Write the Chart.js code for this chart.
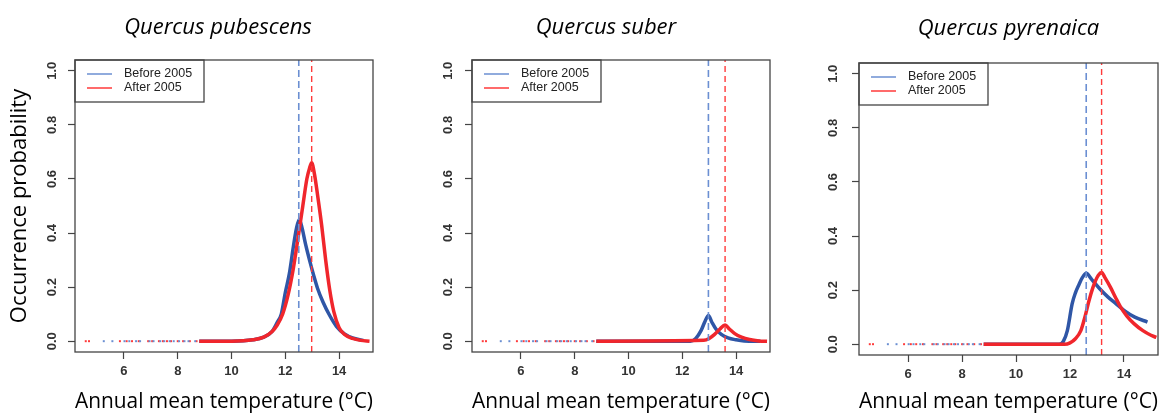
<!DOCTYPE html>
<html lang="en">
<head>
    <meta charset="UTF-8">
    <title>Occurrence probability vs annual mean temperature</title>
    <script src="https://cdn.jsdelivr.net/npm/chart.js"></script>
    <style>
        body { margin: 0; background: #fff; }
        .panel { position: absolute; top: 0; height: 414px; }
    </style>
</head>
<body>

    <div class="panel" style="left:0px; width:390px;"><canvas id="chart1"></canvas></div>
    <div class="panel" style="left:390px; width:390px;"><canvas id="chart2"></canvas></div>
    <div class="panel" style="left:780px; width:391px;"><canvas id="chart3"></canvas></div>

    <script>
        // species titles and legend labels
        const speciesNames = ['Quercus pubescens', 'Quercus suber', 'Quercus pyrenaica'];
        const seriesLabels = ['Before 2005', 'After 2005'];

        const xTicks = [6, 8, 10, 12, 14];
        const yTicks = [0, 0.2, 0.4, 0.6, 0.8, 1.0];

        // sparse observations at low temperatures (all at probability 0)
        const beforeDotsX = [5.25, 5.57, 6.02, 6.2, 6.45, 6.6, 6.95, 7.1, 7.35, 7.5, 7.7, 7.85, 8.05, 8.25, 8.4, 8.65];
        const afterDotsX = [4.58, 4.7, 5.85, 6.1, 6.3, 6.55, 6.9, 7.05, 7.3, 7.45, 7.6, 7.75, 8.0, 8.2, 8.45, 8.7];

        // Quercus pubescens
        const pubBeforeX = [8.8, 10.0, 10.8, 11.2, 11.5, 11.7, 11.85, 12.0, 12.15, 12.3, 12.42, 12.52, 12.62, 12.75, 12.9, 13.05, 13.2, 13.4, 13.65, 13.9, 14.2, 14.5, 14.9];
        const pubBeforeY = [0, 0, 0.005, 0.015, 0.035, 0.07, 0.1, 0.18, 0.25, 0.35, 0.42, 0.45, 0.42, 0.36, 0.3, 0.245, 0.195, 0.145, 0.095, 0.055, 0.027, 0.012, 0.003];
        const pubAfterX = [8.8, 10.0, 10.8, 11.2, 11.5, 11.7, 11.9, 12.1, 12.3, 12.5, 12.65, 12.8, 12.9, 12.98, 13.08, 13.2, 13.35, 13.5, 13.65, 13.8, 14.0, 14.2, 14.5, 14.8, 15.13];
        const pubAfterY = [0, 0, 0.005, 0.015, 0.035, 0.06, 0.1, 0.17, 0.27, 0.4, 0.5, 0.6, 0.64, 0.66, 0.62, 0.54, 0.43, 0.3, 0.19, 0.11, 0.05, 0.025, 0.01, 0.003, 0];

        // Quercus suber
        const subBeforeX = [8.8, 12.3, 12.5, 12.7, 12.85, 12.97, 13.1, 13.25, 13.45, 13.7, 14.0, 14.3, 14.9];
        const subBeforeY = [0, 0, 0.01, 0.04, 0.075, 0.095, 0.07, 0.045, 0.025, 0.012, 0.005, 0.001, 0];
        const subAfterX = [8.8, 12.8, 13.0, 13.2, 13.4, 13.59, 13.75, 13.95, 14.2, 14.5, 14.85, 15.15];
        const subAfterY = [0, 0.003, 0.01, 0.025, 0.045, 0.06, 0.045, 0.028, 0.015, 0.006, 0.001, 0];

        // Quercus pyrenaica
        const pyrBeforeX = [8.8, 11.6, 11.75, 11.9, 12.08, 12.2, 12.33, 12.45, 12.6, 12.8, 13.1, 13.4, 13.7, 14.0, 14.4, 14.87];
        const pyrBeforeY = [0, 0, 0.01, 0.05, 0.15, 0.19, 0.22, 0.245, 0.262, 0.24, 0.205, 0.175, 0.15, 0.125, 0.1, 0.082];
        const pyrAfterX = [8.8, 11.8, 12.0, 12.2, 12.4, 12.55, 12.7, 12.85, 12.95, 13.05, 13.17, 13.3, 13.5, 13.7, 13.87, 14.1, 14.37, 14.7, 15.0, 15.2];
        const pyrAfterY = [0, 0, 0.005, 0.02, 0.05, 0.1, 0.16, 0.21, 0.236, 0.255, 0.265, 0.245, 0.21, 0.17, 0.138, 0.105, 0.076, 0.05, 0.033, 0.025];

        // optimum temperatures (dashed vertical lines)
        const optimumBefore = [12.5, 12.97, 12.6];
        const optimumAfter = [12.98, 13.59, 13.17];

        const BLUE = '#2f56a6';
        const RED = '#f0262c';
        const BLUE_DASH = '#6b8fd2';
        const RED_DASH = '#ff3a3a';
        const AXIS = '#444';

        const toPoints = (xs, ys) => xs.map((x, i) => ({ x: x, y: ys[i] }));

        // draws the frame, the R-style legend box and the panel title
        const framePlugin = {
            id: 'frame',
            afterDraw(chart) {
                const ctx = chart.ctx;
                const a = chart.chartArea;
                const o = chart.options.plugins.frame;
                ctx.save();
                ctx.strokeStyle = AXIS;
                ctx.lineWidth = 1.3;
                ctx.strokeRect(a.left, a.top, a.right - a.left, a.bottom - a.top);

                // legend
                ctx.strokeRect(a.left, a.top, 129, 42);
                const cols = [BLUE_DASH, RED_DASH];
                ctx.font = '12.5px "Liberation Sans", Arial, sans-serif';
                ctx.textBaseline = 'middle';
                ctx.fillStyle = '#222';
                seriesLabels.forEach((lab, i) => {
                    const y = a.top + 14 + i * 14;
                    ctx.strokeStyle = cols[i];
                    ctx.lineWidth = 1.5;
                    ctx.beginPath();
                    ctx.moveTo(a.left + 12, y);
                    ctx.lineTo(a.left + 37, y);
                    ctx.stroke();
                    ctx.fillText(lab, a.left + 49, y);
                });

                // title
                ctx.font = 'italic 22px "Open Sans", sans-serif';
                ctx.textAlign = 'center';
                ctx.fillStyle = '#000';
                ctx.fillText(o.title, (a.left + a.right) / 2 + o.titleShift, o.titleY);
                ctx.restore();
            }
        };

        function makeChart(id, idx, bx, by, ax, ay, cfg) {
            const ctx = document.getElementById(id).getContext('2d');
            const ymin = -0.04, ymax = 1.04;
            return new Chart(ctx, {
                type: 'line',
                data: {
                    datasets: [
                        {
                            label: seriesLabels[0],
                            data: toPoints(bx, by),
                            borderColor: BLUE,
                            borderWidth: 3.5,
                            pointRadius: 0,
                            cubicInterpolationMode: 'monotone',
                            fill: false,
                            order: 3
                        },
                        {
                            label: seriesLabels[1],
                            data: toPoints(ax, ay),
                            borderColor: RED,
                            borderWidth: 3.5,
                            pointRadius: 0,
                            cubicInterpolationMode: 'monotone',
                            fill: false,
                            order: 2
                        },
                        {
                            label: 'before dots',
                            data: beforeDotsX.map(x => ({ x: x, y: 0 })),
                            showLine: false,
                            pointStyle: 'rect',
                            pointRadius: 1.4,
                            pointBorderWidth: 0,
                            pointBackgroundColor: BLUE_DASH,
                            order: 4
                        },
                        {
                            label: 'after dots',
                            data: afterDotsX.map(x => ({ x: x, y: 0 })),
                            showLine: false,
                            pointStyle: 'rect',
                            pointRadius: 1.4,
                            pointBorderWidth: 0,
                            pointBackgroundColor: RED_DASH,
                            order: 4
                        },
                        {
                            label: 'optimum before',
                            data: [{ x: optimumBefore[idx], y: ymin }, { x: optimumBefore[idx], y: ymax }],
                            borderColor: BLUE_DASH,
                            borderWidth: 1.6,
                            borderDash: [7, 4],
                            pointRadius: 0,
                            order: 1
                        },
                        {
                            label: 'optimum after',
                            data: [{ x: optimumAfter[idx], y: ymin }, { x: optimumAfter[idx], y: ymax }],
                            borderColor: RED_DASH,
                            borderWidth: 1.4,
                            borderDash: [6, 4],
                            pointRadius: 0,
                            order: 1
                        }
                    ]
                },
                options: {
                    responsive: true,
                    maintainAspectRatio: false,
                    animation: false,
                    layout: { padding: { left: 0, right: cfg.padRight, top: cfg.padTop, bottom: 0 } },
                    plugins: {
                        legend: { display: false },
                        tooltip: { enabled: false },
                        frame: { title: speciesNames[idx], titleShift: cfg.titleShift, titleY: cfg.titleY }
                    },
                    scales: {
                        x: {
                            type: 'linear',
                            min: 4.18,
                            max: 15.26,
                            afterBuildTicks: s => { s.ticks = xTicks.map(v => ({ value: v })); },
                            afterFit: s => { s.height = cfg.xHeight; },
                            border: { display: false },
                            grid: { drawOnChartArea: false, drawTicks: true, tickLength: 7, tickColor: AXIS, tickWidth: 1.2 },
                            ticks: {
                                color: '#333',
                                padding: 5,
                                maxRotation: 0,
                                font: { family: '"Liberation Sans", Arial, sans-serif', size: 13, weight: 'bold' },
                                callback: v => String(v)
                            },
                            title: {
                                display: true,
                                text: 'Annual mean temperature (°C)',
                                color: '#000',
                                padding: { top: 0, bottom: 0 },
                                font: { family: '"Open Sans", sans-serif', size: 22, lineHeight: 1.1 }
                            }
                        },
                        y: {
                            type: 'linear',
                            min: ymin,
                            max: ymax,
                            afterBuildTicks: s => { s.ticks = yTicks.map(v => ({ value: v })); },
                            afterFit: s => { s.width = cfg.yWidth; },
                            border: { display: false },
                            grid: { drawOnChartArea: false, drawTicks: true, tickLength: 7, tickColor: AXIS, tickWidth: 1.2 },
                            ticks: {
                                color: '#333',
                                padding: cfg.yTickPad,
                                minRotation: 90,
                                maxRotation: 90,
                                crossAlign: 'center',
                                font: { family: '"Liberation Sans", Arial, sans-serif', size: 13, weight: 'bold' },
                                callback: v => v.toFixed(1)
                            },
                            title: {
                                display: cfg.showYTitle,
                                text: 'Occurrence probability',
                                color: '#000',
                                padding: { top: 7, bottom: 0 },
                                font: { family: '"Open Sans", sans-serif', size: 22, lineHeight: 1.2 }
                            }
                        }
                    }
                },
                plugins: [framePlugin]
            });
        }

        makeChart('chart1', 0, pubBeforeX, pubBeforeY, pubAfterX, pubAfterY,
            { padRight: 17, padTop: 60, xHeight: 62, yWidth: 75, yTickPad: 7, showYTitle: true, titleShift: -6, titleY: 28 });
        makeChart('chart2', 1, subBeforeX, subBeforeY, subAfterX, subAfterY,
            { padRight: 10, padTop: 60, xHeight: 62, yWidth: 82, yTickPad: 8, showYTitle: false, titleShift: -15, titleY: 28 });
        makeChart('chart3', 2, pyrBeforeX, pyrBeforeY, pyrAfterX, pyrAfterY,
            { padRight: 13, padTop: 63, xHeight: 59, yWidth: 79, yTickPad: 10, showYTitle: false, titleShift: 0, titleY: 29 });
    </script>

</body>
</html>
